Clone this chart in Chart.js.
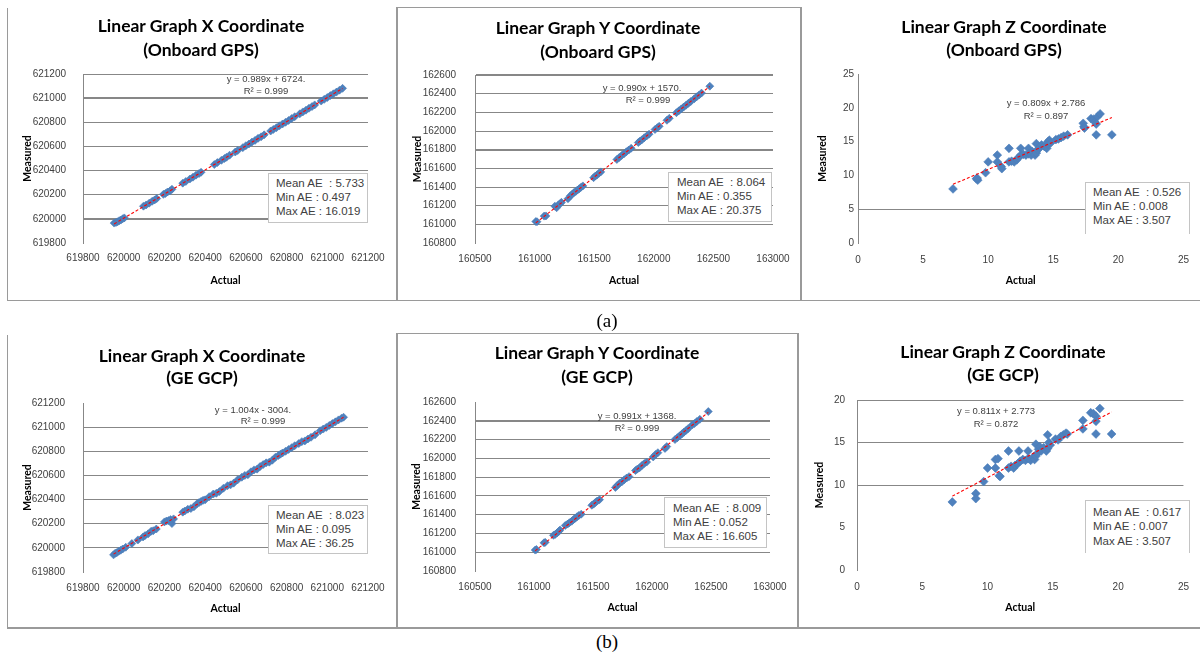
<!DOCTYPE html>
<html><head><meta charset="utf-8">
<script src="https://cdn.jsdelivr.net/npm/chart.js@4.4.0/dist/chart.umd.min.js"></script>
<style>
html,body{margin:0;padding:0;background:#fff}
body{width:1202px;height:658px;position:relative;overflow:hidden}
canvas{position:absolute}
.ttl{position:absolute;font-family:Lato,'Open Sans',sans-serif;font-weight:bold;font-size:17.5px;color:#000;white-space:nowrap;transform:translate(-50%,-50%);line-height:1}
.eq{position:absolute;font-family:'Liberation Sans Narrow','Liberation Sans',sans-serif;font-size:9.5px;color:#404040;white-space:nowrap;transform:translate(-50%,-50%);line-height:1}
.box{position:absolute;background:#fff;border:1px solid #c4c4c4;box-sizing:border-box}
.st{position:absolute;font-family:'Liberation Sans Narrow','Liberation Sans',sans-serif;font-size:11.5px;color:#404040;white-space:pre;transform:translateY(-50%);line-height:1}
.ln{position:absolute;background:#9a9a9a}
.cap{position:absolute;font-family:'Liberation Serif','DejaVu Serif',serif;font-size:19px;color:#000;transform:translate(-50%,-50%);line-height:1}
</style>
</head><body>
<script>
// ---------- DATA ----------
const xCoordTicks = [619800, 620000, 620200, 620400, 620600, 620800, 621000, 621200];
const yCoordTicks = [160800, 161000, 161200, 161400, 161600, 161800, 162000, 162200, 162400, 162600];
const yActualTicks = [160500, 161000, 161500, 162000, 162500, 163000];
const zTicks25 = [0, 5, 10, 15, 20, 25];
const zTicks20 = [0, 5, 10, 15, 20];

// [actual, measured]
const xOnboard = [
[619953,619965],[619962,619970],[619970,619976],[619978,619985],[619986,619990],[619995,620001],[620003,620008],
[620097,620105],[620110,620115],[620125,620130],[620140,620146],[620152,620157],[620162,620168],
[620195,620203],[620205,620210],[620215,620222],[620228,620232],[620237,620245],
[620290,620296],[620305,620310],[620325,620330],[620340,620345],[620355,620362],[620370,620375],[620380,620386],
[620445,620450],[620460,620466],[620480,620485],[620495,620500],[620505,620510],[620520,620527],
[620548,620554],[620560,620566],
[620585,620590],[620600,620606],[620615,620620],[620630,620636],[620645,620650],[620660,620667],[620675,620680],[620690,620696],
[620722,620728],[620735,620741],[620750,620755],[620765,620771],[620780,620786],[620795,620800],
[620810,620815],[620825,620831],[620840,620846],
[620865,620870],[620880,620886],[620895,620900],[620910,620916],[620925,620930],[620938,620944],
[620970,620976],[620985,620990],[621000,621005],[621015,621021],[621030,621036],[621045,621050],[621060,621066],[621075,621081]
];
const xOnboardTrend = [[619953,619958],[621075,621080]];

const yOnboard = [
[161010,161030],[161020,161028],[161080,161088],[161095,161090],
[161170,161195],[161185,161178],[161200,161210],[161215,161222],[161225,161236],
[161280,161274],[161300,161305],[161315,161322],
[161330,161340],[161345,161352],[161360,161368],[161375,161382],[161390,161398],[161405,161412],
[161495,161500],[161510,161518],[161525,161530],[161540,161548],[161555,161562],
[161690,161695],[161710,161716],[161730,161738],[161750,161755],[161770,161778],[161790,161796],[161810,161815],
[161870,161876],[161885,161892],[161900,161905],[161920,161928],[161940,161946],[161960,161966],
[162010,162016],[162030,162036],[162045,162050],
[162110,162115],[162130,162136],
[162190,162196],[162210,162216],[162230,162236],[162250,162256],[162270,162276],[162290,162296],[162310,162316],
[162340,162346],[162360,162366],[162380,162386],[162400,162406],
[162470,162480]
];
const yOnboardTrend = [[161010,161015],[162470,162478]];

const zOnboard = [
[7.3,8.0],[9.1,9.5],[9.2,9.3],[9.15,9.6],[9.8,10.4],[10.0,12.0],[10.7,13.0],[10.7,12.0],[11.0,11.3],[11.05,11.0],
[11.6,14.0],[11.6,12.0],[11.8,12.1],[12.0,12.0],[12.2,12.3],[12.3,12.6],
[12.5,14.0],[12.5,13.0],[12.7,13.1],[12.9,13.0],
[13.1,14.0],[13.1,13.2],[13.3,13.0],[13.4,13.5],[13.6,13.0],[13.7,13.3],
[13.7,14.7],[13.8,13.8],[13.9,14.0],[14.0,14.2],[14.1,14.5],[14.3,14.3],
[14.5,14.0],[14.6,14.6],[14.6,15.0],[14.7,15.2],[14.8,14.8],
[15.2,15.3],[15.4,15.4],[15.6,15.6],[15.8,15.8],[16.1,16.0],
[17.3,17.7],[17.35,17.2],[17.4,17.0],
[17.9,18.4],[18.1,18.3],[18.2,17.9],[18.4,18.7],[18.6,19.1],[18.3,17.6],
[18.3,16.0],[19.5,16.0]
];
const zOnboardTrend = [[7.3,8.69],[19.5,18.56]];

const xGcp = [
[619950,619942],[619958,619955],[619966,619960],[619975,619972],[619985,619980],[619995,619990],[620010,620005],
[620040,620036],[620070,620066],[620095,620090],[620105,620102],[620120,620116],[620135,620138],[620145,620142],
[620160,620156],[620200,620215],[620210,620222],[620220,620226],[620230,620234],[620237,620201],[620245,620240],
[620290,620296],[620300,620305],[620315,620320],[620330,620326],[620345,620340],[620360,620365],[620370,620375],
[620380,620385],[620390,620394],[620400,620398],[620420,620424],[620440,620446],[620455,620452],[620470,620466],
[620490,620494],[620510,620515],[620525,620522],[620540,620536],[620560,620564],[620580,620585],[620595,620600],
[620610,620606],[620625,620630],[620640,620646],[620655,620652],[620670,620674],[620685,620690],[620700,620704],
[620715,620710],[620730,620726],[620745,620750],[620760,620765],[620770,620776],[620780,620786],[620795,620800],
[620810,620815],[620825,620830],[620840,620846],[620860,620864],[620875,620880],[620890,620886],[620905,620902],
[620920,620916],[620940,620936],[620965,620970],[620980,620984],[620995,620998],[621010,621014],[621025,621030],
[621040,621044],[621055,621060],[621070,621074],[621080,621082]
];
const xGcpTrend = [[619950,619948],[621080,621082]];

const yGcp = [
[161010,161023],[161020,161030],[161085,161100],[161095,161105],
[161165,161180],[161180,161190],[161195,161205],[161210,161222],[161220,161236],
[161265,161285],[161285,161300],[161300,161315],
[161320,161330],[161335,161348],[161350,161362],[161365,161378],[161380,161392],[161400,161405],
[161490,161500],[161505,161512],[161520,161530],[161535,161545],[161555,161560],
[161690,161690],[161705,161710],[161725,161735],[161745,161750],[161765,161772],[161785,161790],[161805,161805],
[161860,161870],[161875,161885],[161895,161900],[161915,161925],[161935,161945],[161955,161960],
[162010,162015],[162030,162040],[162050,162060],
[162110,162105],[162125,162125],
[162195,162200],[162215,162220],[162235,162240],[162255,162262],[162270,162278],[162290,162298],[162305,162315],
[162340,162355],[162360,162370],[162380,162392],[162405,162415],
[162477,162498]
];
const yGcpTrend = [[161010,161015],[162477,162490]];

const zGcp = [
[7.3,8.0],[9.1,9.0],[9.1,8.4],[9.7,10.4],[10.0,12.0],[10.6,13.0],[10.8,13.1],[10.6,12.0],[10.9,11.1],[10.95,11.0],
[11.6,14.0],[11.6,12.0],[11.8,12.2],[12.0,12.0],[12.1,12.3],[12.3,12.5],
[12.4,14.0],[12.5,12.8],[12.7,13.0],[12.9,12.9],
[13.1,14.0],[13.1,13.1],[13.3,12.9],[13.5,13.3],[13.6,13.0],[13.7,13.4],
[13.7,14.8],[13.8,13.7],[13.9,14.2],[14.0,14.5],[14.1,14.0],[14.3,14.4],
[14.5,14.0],[14.6,15.9],[14.6,14.3],[14.7,15.0],[14.8,14.7],
[15.2,15.4],[15.4,15.3],[15.6,15.7],[15.8,15.9],[16.0,16.1],[16.1,16.0],
[17.3,17.6],[17.3,16.6],
[17.9,18.5],[18.1,18.4],[18.3,18.1],[18.3,17.5],[18.6,19.0],
[18.3,16.0],[19.5,16.0]
];
const zGcpTrend = [[7.3,8.69],[19.5,18.59]];

const titles = [
 ['Linear Graph X Coordinate','(Onboard GPS)'],
 ['Linear Graph Y Coordinate','(Onboard GPS)'],
 ['Linear Graph Z Coordinate','(Onboard GPS)'],
 ['Linear Graph X Coordinate','(GE GCP)'],
 ['Linear Graph Y Coordinate','(GE GCP)'],
 ['Linear Graph Z Coordinate','(GE GCP)']
];
const equations = [
 ['y = 0.989x + 6724.','R\u00B2 = 0.999'],
 ['y = 0.990x + 1570.','R\u00B2 = 0.999'],
 ['y = 0.809x + 2.786','R\u00B2 = 0.897'],
 ['y = 1.004x - 3004.','R\u00B2 = 0.999'],
 ['y = 0.991x + 1368.','R\u00B2 = 0.999'],
 ['y = 0.811x + 2.773','R\u00B2 = 0.872']
];
const stats = [
 ['Mean AE  : 5.733','Min AE : 0.497','Max AE : 16.019'],
 ['Mean AE  : 8.064','Min AE : 0.355','Max AE : 20.375'],
 ['Mean AE  : 0.526','Min AE : 0.008','Max AE : 3.507'],
 ['Mean AE  : 8.023','Min AE : 0.095','Max AE : 36.25'],
 ['Mean AE  : 8.009','Min AE : 0.052','Max AE : 16.605'],
 ['Mean AE  : 0.617','Min AE : 0.007','Max AE : 3.507']
];

// ---------- LAYOUT / STYLE ----------
const panels = [
 {pts:xOnboard, trend:xOnboardTrend, xt:xCoordTicks, yt:xCoordTicks, r:4,
  grid:{621200:1,621000:2,620800:1,620600:1,620400:1,620200:1,620000:2},
  canvas:[8,8,388,292], plot:[83,74,368,243], yLab:66, yTit:28, xLab:258, xTit:281,
  title:[201,26,50], eq:[266,79,266,91], box:[268,173,100,50,276,[184,198,212],true]},
 {pts:yOnboard, trend:yOnboardTrend, xt:yActualTicks, yt:yCoordTicks, r:4,
  grid:{162600:2,162400:1,162200:1,162000:1,161800:2,161600:1,161400:1,161200:1,161000:1},
  canvas:[396,8,405,292], plot:[475,75,773,243], yLab:456, yTit:418, xLab:259, xTit:281,
  title:[598,28,52], eq:[642,88,648,100], box:[668,172,104,50,677,[183,197,211],true]},
 {pts:zOnboard, trend:zOnboardTrend, xt:zTicks25, yt:zTicks25, r:4.4,
  grid:{5:1},
  canvas:[801,8,399,292], plot:[858,74,1191,243], yLab:854, yTit:823, xLab:260, xTit:281,
  title:[1004,27,50], eq:[1046,103,1046,116], box:[1085,182,105,52,1093,[193,207,221],false]},
 {pts:xGcp, trend:xGcpTrend, xt:xCoordTicks, yt:xCoordTicks, r:4,
  grid:{621000:1,620800:1,620600:1,620400:1,620200:1,620000:1},
  canvas:[8,333,388,295], plot:[83,403,368,572], yLab:65, yTit:28, xLab:588, xTit:609,
  title:[202,356,378], eq:[253,410,263,421], box:[268,505,100,49,276,[516,530,544],true]},
 {pts:yGcp, trend:yGcpTrend, xt:yActualTicks, yt:yCoordTicks, r:4,
  grid:{162400:2,162200:1,162000:1,161800:1,161600:1,161400:1,161200:1,161000:1},
  canvas:[396,333,401,295], plot:[475,402,770,571], yLab:456, yTit:417, xLab:587, xTit:608,
  title:[597,353,377], eq:[637,416,637,428], box:[664,497,103,51,673,[509,523,537],true]},
 {pts:zGcp, trend:zGcpTrend, xt:zTicks25, yt:zTicks20, r:4.4,
  grid:{20:1,15:1,10:1},
  canvas:[797,333,403,295], plot:[857,400,1190,570], yLab:845, yTit:820, xLab:587, xTit:608,
  title:[1003,352,375], eq:[996,411,996,424], box:[1085,500,105,53,1093,[513,527,542],false]}
];

const TICK = 10, TTL = 10.5;
const GRID = '#878787';
Chart.defaults.font.family = "'Liberation Sans Narrow','Liberation Sans',Arial,sans-serif";

function el(cls, css, txt) {
  const d = document.createElement('div');
  d.className = cls;
  Object.assign(d.style, css);
  if (txt !== undefined) d.textContent = txt;
  document.body.appendChild(d);
  return d;
}

panels.forEach((P, i) => {
  const [cx, cy, cw, ch] = P.canvas;
  const [pl, pt, pr, pb] = P.plot;
  const cv = document.createElement('canvas');
  cv.width = cw; cv.height = ch;
  Object.assign(cv.style, {left: cx + 'px', top: cy + 'px', width: cw + 'px', height: ch + 'px'});
  document.body.appendChild(cv);
  const tLH = TICK * 1.2, hLH = TTL * 1.2;
  const yW = pl - cx, xH = cy + ch - pb;
  new Chart(cv, {
    type: 'scatter',
    data: {datasets: [
      {data: P.trend.map(p => ({x: p[0], y: p[1]})), showLine: true, borderColor: '#ff0000',
       borderWidth: 1.1, borderDash: [3, 2], pointRadius: 0, fill: false},
      {data: P.pts.map(p => ({x: p[0], y: p[1]})), pointStyle: 'rectRot', pointRadius: P.r,
       backgroundColor: '#4F81BD', borderColor: '#4A7EBB', borderWidth: 0.6}
    ]},
    options: {
      responsive: false, animation: false, devicePixelRatio: 1,
      layout: {padding: {left: 0, top: pt - cy, right: cx + cw - pr, bottom: 0}},
      plugins: {legend: {display: false}, tooltip: {enabled: false}, title: {display: false}},
      scales: {
        x: {
          type: 'linear', position: 'bottom', min: P.xt[0], max: P.xt[P.xt.length - 1],
          afterBuildTicks: s => { s.ticks = P.xt.map(v => ({value: v})); },
          afterFit: s => { s.height = xH; },
          grid: {display: false, drawTicks: false}, border: {display: false},
          ticks: {padding: P.xLab - pb - tLH / 2, font: {size: TICK}, color: '#404040',
                  callback: v => String(v), autoSkip: false, maxRotation: 0, minRotation: 0},
          title: {display: true, text: 'Actual', color: '#000',
                  font: {family: 'Lato, sans-serif', weight: 'bold', size: TTL},
                  padding: {top: 0, bottom: cy + ch - P.xTit - hLH / 2}}
        },
        y: {
          type: 'linear', position: 'left', min: P.yt[0], max: P.yt[P.yt.length - 1],
          afterBuildTicks: s => { s.ticks = P.yt.map(v => ({value: v})); },
          afterFit: s => { s.width = yW; },
          grid: {drawTicks: false,
                 color: c => (P.grid[c.tick && c.tick.value] ? GRID : 'rgba(0,0,0,0)'),
                 lineWidth: c => (P.grid[c.tick && c.tick.value] || 1)},
          border: {display: true, color: GRID, width: 1},
          ticks: {padding: pl - P.yLab, font: {size: TICK}, color: '#404040',
                  callback: v => String(v), autoSkip: false},
          title: {display: true, text: 'Measured', color: '#000',
                  font: {family: 'Lato, sans-serif', weight: 'bold', size: TTL},
                  padding: {top: P.yTit - cx - hLH / 2, bottom: 0}}
        }
      }
    }
  });

  el('ttl', {left: P.title[0] + 'px', top: P.title[1] + 'px'}, titles[i][0]);
  el('ttl', {left: P.title[0] + 'px', top: P.title[2] + 'px'}, titles[i][1]);
  el('eq', {left: P.eq[0] + 'px', top: P.eq[1] + 'px'}, equations[i][0]);
  el('eq', {left: P.eq[2] + 'px', top: P.eq[3] + 'px'}, equations[i][1]);
  const b = P.box;
  const bx = el('box', {left: b[0] + 'px', top: b[1] + 'px', width: b[2] + 'px', height: b[3] + 'px'});
  if (!b[6]) bx.style.borderBottom = 'none';
  stats[i].forEach((s, k) => el('st', {left: b[4] + 'px', top: b[5][k] + 'px'}, s));
});

// frames
const frameLines = [
  [7, 300, 1193, 1], [7, 8, 1, 292], [396, 7, 2, 293], [396, 7, 405, 1], [800, 7, 2, 293],
  [396, 333, 402, 1], [7, 335, 1, 293], [396, 333, 2, 295], [797, 333, 2, 295], [7, 627, 1193, 2]
];
frameLines.forEach(f => el('ln', {left: f[0] + 'px', top: f[1] + 'px', width: f[2] + 'px', height: f[3] + 'px'}));

el('cap', {left: '607px', top: '320px'}, '(a)');
el('cap', {left: '607px', top: '641px'}, '(b)');
</script>
</body></html>
